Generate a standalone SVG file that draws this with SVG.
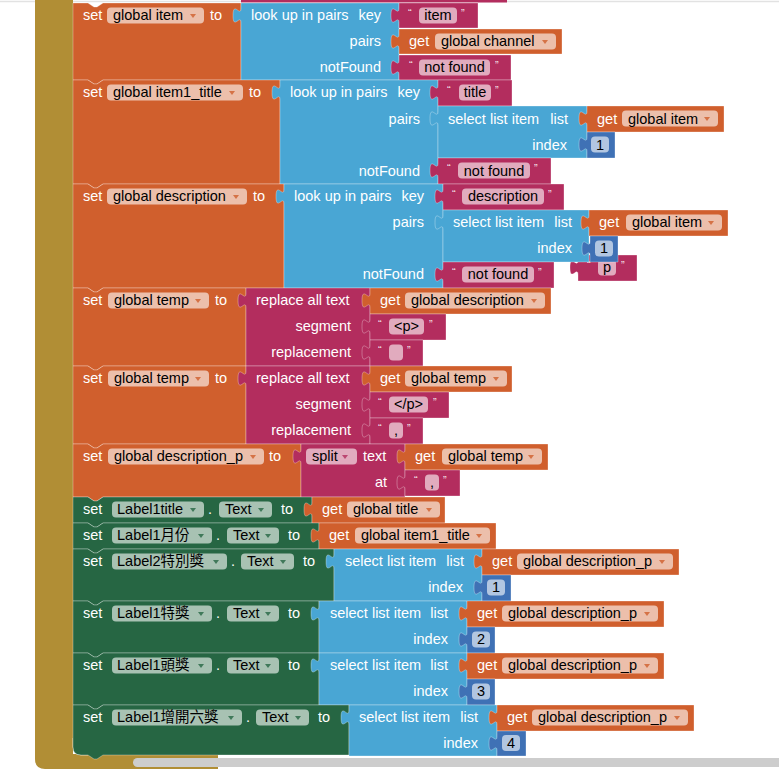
<svg xmlns="http://www.w3.org/2000/svg" width="779" height="769" viewBox="0 0 779 769">
<style>
text{font-family:"Liberation Sans","Noto Sans CJK TC",Arial,sans-serif;font-size:14.5px}
.w{fill:#fff}
.k{fill:#000}
.e{text-anchor:end}
.m{text-anchor:middle}
.q{fill:#fff;fill-opacity:.9;font-size:11px}
.blk{stroke:#fff;stroke-opacity:.3;stroke-width:1}
.or{fill:#D05F2D}.bl{fill:#49A6D4}.mg{fill:#B32D5E}.gr{fill:#266643}.nb{fill:#3F71B5}
.pl{fill:#fff;fill-opacity:.6}
.ao{fill:#D05F2D;fill-opacity:.8}.ag{fill:#266643;fill-opacity:.8}.am{fill:#B32D5E;fill-opacity:.8}
</style>
<rect x="0" y="0" width="779" height="769" fill="#fff"/>
<line x1="0" y1="1.5" x2="779" y2="1.5" stroke="#e2e2e2" stroke-width="1.5"/>
<g id="event-frame">
<path d="M35,0 H73 V754 H218 V769 H45 Q35,769 35,759 Z" fill="#B18E35"/>
<path d="M73.5,738 V747 Q73.5,754.5 81,754.5 H88" fill="none" stroke="#fff" stroke-width="1.5"/>
</g>
<rect x="241" y="0" width="266" height="2.5" fill="#B32D5E"/>
<g id="connectors"/>

<!-- Block 1 -->
<g id="set-global-item">
<path class="blk or" d="M73,3 H88 l6,4 h3 l6,-4 H241 V80 H103 l-6,4 h-3 l-6,-4 H73 Z"/>
<text class="w" x="83" y="20">set</text>
<rect class="pl" x="107" y="7.5" width="97" height="16" rx="4"/>
<text class="k" x="113" y="20">global item</text>
<path class="ao" d="M190,14 h6 l-3,4 z"/>
<text class="w" x="210" y="20">to</text>
</g>
<g id="lookup-1">
<path class="blk bl" d="M241,3 H399 V80 H241 V23 c0,-10 -8,8 -8,-7.5 s8,2.5 8,-7.5 Z"/>
<text class="w" x="251" y="20">look up in pairs</text>
<text class="w e" x="381" y="20">key</text>
<text class="w e" x="381" y="46">pairs</text>
<text class="w e" x="381" y="72">notFound</text>
</g>
<g id="text-item">
<path class="blk mg" d="M399,3 H478 V28 H399 V23 c0,-10 -8,8 -8,-7.5 s8,2.5 8,-7.5 Z"/>
<text class="q" x="408" y="17">“</text>
<rect class="pl" x="419" y="7.5" width="38" height="16" rx="4"/>
<text class="k m" x="438" y="20">item</text>
<text class="q" x="461" y="17">”</text>
</g>
<g id="get-global-channel">
<path class="blk or" d="M399,29 H562 V54 H399 V49 c0,-10 -8,8 -8,-7.5 s8,2.5 8,-7.5 Z"/>
<text class="w" x="409" y="46">get</text>
<rect class="pl" x="435" y="33.5" width="121" height="16" rx="4"/>
<text class="k" x="441" y="46">global channel</text>
<path class="ao" d="M542,40 h6 l-3,4 z"/>
</g>
<g id="text-notfound-1">
<path class="blk mg" d="M399,55 H511 V80 H399 V75 c0,-10 -8,8 -8,-7.5 s8,2.5 8,-7.5 Z"/>
<text class="q" x="409" y="69">“</text>
<rect class="pl" x="419" y="59.5" width="71" height="16" rx="4"/>
<text class="k m" x="454.5" y="72">not found</text>
<text class="q" x="495" y="69">”</text>
</g>

<!-- Block 2 -->
<g id="set-global-item1_title">
<path class="blk or" d="M73,80 H88 l6,4 h3 l6,-4 H280 V184 H103 l-6,4 h-3 l-6,-4 H73 Z"/>
<text class="w" x="83" y="97">set</text>
<rect class="pl" x="107" y="84.5" width="136" height="16" rx="4"/>
<text class="k" x="113" y="97">global item1_title</text>
<path class="ao" d="M229,91 h6 l-3,4 z"/>
<text class="w" x="249" y="97">to</text>
</g>
<g id="lookup-2">
<path class="blk bl" d="M280,80 H438 V184 H280 V100 c0,-10 -8,8 -8,-7.5 s8,2.5 8,-7.5 Z"/>
<text class="w" x="290" y="97">look up in pairs</text>
<text class="w e" x="420" y="97">key</text>
<text class="w e" x="420" y="124">pairs</text>
<text class="w e" x="420" y="176">notFound</text>
</g>
<g id="text-title">
<path class="blk mg" d="M438,80 H512 V106 H438 V100 c0,-10 -8,8 -8,-7.5 s8,2.5 8,-7.5 Z"/>
<text class="q" x="447" y="94">“</text>
<rect class="pl" x="459" y="84.5" width="32" height="16" rx="4"/>
<text class="k m" x="475" y="97">title</text>
<text class="q" x="495" y="94">”</text>
</g>
<g id="select-1">
<path class="blk bl" d="M438,106 H587 V158 H438 V126 c0,-10 -8,8 -8,-7.5 s8,2.5 8,-7.5 Z"/>
<text class="w" x="448" y="124">select list item</text>
<text class="w e" x="568" y="124">list</text>
<text class="w e" x="567" y="150">index</text>
</g>
<g id="get-global-item-1">
<path class="blk or" d="M587,106 H724 V132 H587 V126 c0,-10 -8,8 -8,-7.5 s8,2.5 8,-7.5 Z"/>
<text class="w" x="597" y="124">get</text>
<rect class="pl" x="622" y="110.5" width="96" height="16" rx="4"/>
<text class="k" x="628" y="124">global item</text>
<path class="ao" d="M704,117 h6 l-3,4 z"/>
</g>
<g id="num-1a">
<path class="blk nb" d="M587,132 H615 V158 H587 V152 c0,-10 -8,8 -8,-7.5 s8,2.5 8,-7.5 Z"/>
<rect class="pl" x="591" y="136.5" width="18" height="16" rx="4"/>
<text class="k m" x="600" y="150">1</text>
</g>
<g id="text-notfound-2">
<path class="blk mg" d="M438,158 H551 V184 H438 V178 c0,-10 -8,8 -8,-7.5 s8,2.5 8,-7.5 Z"/>
<text class="q" x="447" y="172">“</text>
<rect class="pl" x="458" y="162.5" width="72" height="16" rx="4"/>
<text class="k m" x="494" y="176">not found</text>
<text class="q" x="534" y="172">”</text>
</g>

<!-- Block 3 -->
<g id="set-global-description">
<path class="blk or" d="M73,184 H88 l6,4 h3 l6,-4 H284 V288 H103 l-6,4 h-3 l-6,-4 H73 Z"/>
<text class="w" x="83" y="201">set</text>
<rect class="pl" x="107" y="188.5" width="140" height="16" rx="4"/>
<text class="k" x="113" y="201">global description</text>
<path class="ao" d="M233,195 h6 l-3,4 z"/>
<text class="w" x="253" y="201">to</text>
</g>
<g id="lookup-3">
<path class="blk bl" d="M284,184 H443 V288 H284 V204 c0,-10 -8,8 -8,-7.5 s8,2.5 8,-7.5 Z"/>
<text class="w" x="294" y="201">look up in pairs</text>
<text class="w e" x="424" y="201">key</text>
<text class="w e" x="424" y="227">pairs</text>
<text class="w e" x="424" y="279">notFound</text>
</g>
<g id="text-description">
<path class="blk mg" d="M443,184 H564 V210 H443 V204 c0,-10 -8,8 -8,-7.5 s8,2.5 8,-7.5 Z"/>
<text class="q" x="452" y="198">“</text>
<rect class="pl" x="462" y="188.5" width="82" height="16" rx="4"/>
<text class="k m" x="503" y="201">description</text>
<text class="q" x="548" y="198">”</text>
</g>
<g id="text-p-stray">
<path class="blk mg" d="M578,255 H637 V281 H578 V275 c0,-10 -8,8 -8,-7.5 s8,2.5 8,-7.5 Z"/>
<text class="q" x="587" y="269">“</text>
<rect class="pl" x="598" y="259.5" width="18" height="16" rx="4"/>
<text class="k m" x="607" y="272">p</text>
<text class="q" x="621" y="269">”</text>
</g>
<g id="select-2">
<path class="blk bl" d="M443,210 H589 V262 H443 V230 c0,-10 -8,8 -8,-7.5 s8,2.5 8,-7.5 Z"/>
<text class="w" x="453" y="227">select list item</text>
<text class="w e" x="572" y="227">list</text>
<text class="w e" x="572" y="253">index</text>
</g>
<g id="get-global-item-2">
<path class="blk or" d="M589,210 H728 V236 H589 V230 c0,-10 -8,8 -8,-7.5 s8,2.5 8,-7.5 Z"/>
<text class="w" x="599" y="227">get</text>
<rect class="pl" x="626" y="214.5" width="96" height="16" rx="4"/>
<text class="k" x="632" y="227">global item</text>
<path class="ao" d="M708,221 h6 l-3,4 z"/>
</g>
<g id="num-1b">
<path class="blk nb" d="M590,236 H618 V262 H590 V256 c0,-10 -8,8 -8,-7.5 s8,2.5 8,-7.5 Z"/>
<rect class="pl" x="595" y="240.5" width="18" height="16" rx="4"/>
<text class="k m" x="604" y="253">1</text>
</g>
<g id="text-notfound-3">
<path class="blk mg" d="M443,262 H554 V288 H443 V282 c0,-10 -8,8 -8,-7.5 s8,2.5 8,-7.5 Z"/>
<text class="q" x="452" y="276">“</text>
<rect class="pl" x="462" y="266.5" width="72" height="16" rx="4"/>
<text class="k m" x="498" y="279">not found</text>
<text class="q" x="538" y="276">”</text>
</g>

<!-- Block 4 -->
<g id="set-global-temp-1">
<path class="blk or" d="M73,288 H88 l6,4 h3 l6,-4 H246 V366 H103 l-6,4 h-3 l-6,-4 H73 Z"/>
<text class="w" x="83" y="305">set</text>
<rect class="pl" x="108" y="292.5" width="101" height="16" rx="4"/>
<text class="k" x="114" y="305">global temp</text>
<path class="ao" d="M195,299 h6 l-3,4 z"/>
<text class="w" x="215" y="305">to</text>
</g>
<g id="replace-1">
<path class="blk mg" d="M246,288 H370 V366 H246 V308 c0,-10 -8,8 -8,-7.5 s8,2.5 8,-7.5 Z"/>
<text class="w" x="256" y="305">replace all text</text>
<text class="w e" x="351" y="331">segment</text>
<text class="w e" x="351" y="357">replacement</text>
</g>
<g id="get-global-description">
<path class="blk or" d="M370,288 H551 V314 H370 V308 c0,-10 -8,8 -8,-7.5 s8,2.5 8,-7.5 Z"/>
<text class="w" x="380" y="305">get</text>
<rect class="pl" x="405" y="292.5" width="140" height="16" rx="4"/>
<text class="k" x="411" y="305">global description</text>
<path class="ao" d="M531,299 h6 l-3,4 z"/>
</g>
<g id="text-p-open">
<path class="blk mg" d="M370,314 H446 V340 H370 V334 c0,-10 -8,8 -8,-7.5 s8,2.5 8,-7.5 Z"/>
<text class="q" x="378" y="328">“</text>
<rect class="pl" x="389" y="318.5" width="35" height="16" rx="4"/>
<text class="k m" x="406.5" y="331">&lt;p&gt;</text>
<text class="q" x="429" y="328">”</text>
</g>
<g id="text-empty">
<path class="blk mg" d="M370,340 H423 V366 H370 V360 c0,-10 -8,8 -8,-7.5 s8,2.5 8,-7.5 Z"/>
<text class="q" x="378" y="354">“</text>
<rect class="pl" x="389" y="344.5" width="14" height="16" rx="4"/>
<text class="q" x="407" y="354">”</text>
</g>

<!-- Block 5 -->
<g id="set-global-temp-2">
<path class="blk or" d="M73,366 H88 l6,4 h3 l6,-4 H246 V444 H103 l-6,4 h-3 l-6,-4 H73 Z"/>
<text class="w" x="83" y="383">set</text>
<rect class="pl" x="108" y="370.5" width="101" height="16" rx="4"/>
<text class="k" x="114" y="383">global temp</text>
<path class="ao" d="M195,377 h6 l-3,4 z"/>
<text class="w" x="215" y="383">to</text>
</g>
<g id="replace-2">
<path class="blk mg" d="M246,366 H370 V444 H246 V386 c0,-10 -8,8 -8,-7.5 s8,2.5 8,-7.5 Z"/>
<text class="w" x="256" y="383">replace all text</text>
<text class="w e" x="351" y="409">segment</text>
<text class="w e" x="351" y="435">replacement</text>
</g>
<g id="get-global-temp-1">
<path class="blk or" d="M370,366 H512 V392 H370 V386 c0,-10 -8,8 -8,-7.5 s8,2.5 8,-7.5 Z"/>
<text class="w" x="380" y="383">get</text>
<rect class="pl" x="405" y="370.5" width="102" height="16" rx="4"/>
<text class="k" x="411" y="383">global temp</text>
<path class="ao" d="M493,377 h6 l-3,4 z"/>
</g>
<g id="text-p-close">
<path class="blk mg" d="M370,392 H449 V418 H370 V412 c0,-10 -8,8 -8,-7.5 s8,2.5 8,-7.5 Z"/>
<text class="q" x="378" y="406">“</text>
<rect class="pl" x="389" y="396.5" width="39" height="16" rx="4"/>
<text class="k m" x="408.5" y="409">&lt;/p&gt;</text>
<text class="q" x="433" y="406">”</text>
</g>
<g id="text-comma-1">
<path class="blk mg" d="M370,418 H423 V444 H370 V438 c0,-10 -8,8 -8,-7.5 s8,2.5 8,-7.5 Z"/>
<text class="q" x="378" y="432">“</text>
<rect class="pl" x="389" y="422.5" width="14" height="16" rx="4"/>
<text class="k m" x="396" y="435">,</text>
<text class="q" x="407" y="432">”</text>
</g>

<!-- Block 6 -->
<g id="set-global-description_p">
<path class="blk or" d="M73,444 H88 l6,4 h3 l6,-4 H301 V497 H103 l-6,4 h-3 l-6,-4 H73 Z"/>
<text class="w" x="83" y="461">set</text>
<rect class="pl" x="108" y="448.5" width="156" height="16" rx="4"/>
<text class="k" x="114" y="461">global description_p</text>
<path class="ao" d="M250,455 h6 l-3,4 z"/>
<text class="w" x="269" y="461">to</text>
</g>
<g id="split">
<path class="blk mg" d="M301,444 H405 V497 H301 V464 c0,-10 -8,8 -8,-7.5 s8,2.5 8,-7.5 Z"/>
<rect class="pl" x="306" y="448.5" width="51" height="16" rx="4"/>
<text class="k" x="312" y="461">split</text>
<path class="am" d="M342,455 h6 l-3,4 z"/>
<text class="w" x="363" y="461">text</text>
<text class="w e" x="387" y="487">at</text>
</g>
<g id="get-global-temp-2">
<path class="blk or" d="M405,444 H548 V470 H405 V464 c0,-10 -8,8 -8,-7.5 s8,2.5 8,-7.5 Z"/>
<text class="w" x="415" y="461">get</text>
<rect class="pl" x="442" y="448.5" width="100" height="16" rx="4"/>
<text class="k" x="448" y="461">global temp</text>
<path class="ao" d="M528,455 h6 l-3,4 z"/>
</g>
<g id="text-comma-2">
<path class="blk mg" d="M405,470 H460 V496 H405 V490 c0,-10 -8,8 -8,-7.5 s8,2.5 8,-7.5 Z"/>
<text class="q" x="414" y="484">“</text>
<rect class="pl" x="425" y="474.5" width="14" height="16" rx="4"/>
<text class="k m" x="432" y="487">,</text>
<text class="q" x="443" y="484">”</text>
</g>

<!-- Block 7 -->
<g id="set-Label1title">
<path class="blk gr" d="M73,497 H88 l6,4 h3 l6,-4 H312 V523 H103 l-6,4 h-3 l-6,-4 H73 Z"/>
<text class="w" x="83" y="514">set</text>
<rect class="pl" x="112" y="501.5" width="92" height="16" rx="4"/>
<text class="k" x="117" y="514">Label1title</text>
<path class="ag" d="M190,508 h6 l-3,4 z"/>
<text class="w" x="208" y="514">.</text>
<rect class="pl" x="219" y="501.5" width="53" height="16" rx="4"/>
<text class="k" x="225" y="514">Text</text>
<path class="ag" d="M258,508 h6 l-3,4 z"/>
<text class="w" x="281" y="514">to</text>
</g>
<g id="get-global-title">
<path class="blk or" d="M312,497 H445 V523 H312 V517 c0,-10 -8,8 -8,-7.5 s8,2.5 8,-7.5 Z"/>
<text class="w" x="322" y="514">get</text>
<rect class="pl" x="347" y="501.5" width="93" height="16" rx="4"/>
<text class="k" x="353" y="514">global title</text>
<path class="ao" d="M426,508 h6 l-3,4 z"/>
</g>

<!-- Block 8 -->
<g id="set-Label1month">
<path class="blk gr" d="M73,523 H88 l6,4 h3 l6,-4 H319 V549 H103 l-6,4 h-3 l-6,-4 H73 Z"/>
<text class="w" x="83" y="540">set</text>
<rect class="pl" x="112" y="527.5" width="100" height="16" rx="4"/>
<text class="k" x="117" y="540">Label1月份</text>
<path class="ag" d="M198,534 h6 l-3,4 z"/>
<text class="w" x="216" y="540">.</text>
<rect class="pl" x="227" y="527.5" width="52" height="16" rx="4"/>
<text class="k" x="233" y="540">Text</text>
<path class="ag" d="M265,534 h6 l-3,4 z"/>
<text class="w" x="288" y="540">to</text>
</g>
<g id="get-global-item1_title">
<path class="blk or" d="M319,523 H496 V549 H319 V543 c0,-10 -8,8 -8,-7.5 s8,2.5 8,-7.5 Z"/>
<text class="w" x="329" y="540">get</text>
<rect class="pl" x="355" y="527.5" width="135" height="16" rx="4"/>
<text class="k" x="361" y="540">global item1_title</text>
<path class="ao" d="M476,534 h6 l-3,4 z"/>
</g>

<!-- Block 9 -->
<g id="set-Label2special">
<path class="blk gr" d="M73,549 H88 l6,4 h3 l6,-4 H334 V601 H103 l-6,4 h-3 l-6,-4 H73 Z"/>
<text class="w" x="83" y="566">set</text>
<rect class="pl" x="112" y="553.5" width="115" height="16" rx="4"/>
<text class="k" x="117" y="566">Label2特別獎</text>
<path class="ag" d="M213,560 h6 l-3,4 z"/>
<text class="w" x="231" y="566">.</text>
<rect class="pl" x="241" y="553.5" width="53" height="16" rx="4"/>
<text class="k" x="247" y="566">Text</text>
<path class="ag" d="M280,560 h6 l-3,4 z"/>
<text class="w" x="303" y="566">to</text>
</g>
<g id="select-3">
<path class="blk bl" d="M334,549 H482 V601 H334 V569 c0,-10 -8,8 -8,-7.5 s8,2.5 8,-7.5 Z"/>
<text class="w" x="345" y="566">select list item</text>
<text class="w e" x="464" y="566">list</text>
<text class="w e" x="463" y="592">index</text>
</g>
<g id="get-desc-p-1">
<path class="blk or" d="M482,549 H679 V575 H482 V569 c0,-10 -8,8 -8,-7.5 s8,2.5 8,-7.5 Z"/>
<text class="w" x="492" y="566">get</text>
<rect class="pl" x="517" y="553.5" width="156" height="16" rx="4"/>
<text class="k" x="523" y="566">global description_p</text>
<path class="ao" d="M659,560 h6 l-3,4 z"/>
</g>
<g id="num-1c">
<path class="blk nb" d="M482,575 H511 V601 H482 V595 c0,-10 -8,8 -8,-7.5 s8,2.5 8,-7.5 Z"/>
<rect class="pl" x="487" y="579.5" width="18" height="16" rx="4"/>
<text class="k m" x="496" y="592">1</text>
</g>

<!-- Block 10 -->
<g id="set-Label1special">
<path class="blk gr" d="M73,601 H88 l6,4 h3 l6,-4 H319 V653 H103 l-6,4 h-3 l-6,-4 H73 Z"/>
<text class="w" x="83" y="618">set</text>
<rect class="pl" x="112" y="605.5" width="100" height="16" rx="4"/>
<text class="k" x="117" y="618">Label1特獎</text>
<path class="ag" d="M198,612 h6 l-3,4 z"/>
<text class="w" x="216" y="618">.</text>
<rect class="pl" x="227" y="605.5" width="52" height="16" rx="4"/>
<text class="k" x="233" y="618">Text</text>
<path class="ag" d="M265,612 h6 l-3,4 z"/>
<text class="w" x="288" y="618">to</text>
</g>
<g id="select-4">
<path class="blk bl" d="M319,601 H467 V653 H319 V621 c0,-10 -8,8 -8,-7.5 s8,2.5 8,-7.5 Z"/>
<text class="w" x="330" y="618">select list item</text>
<text class="w e" x="448" y="618">list</text>
<text class="w e" x="448" y="644">index</text>
</g>
<g id="get-desc-p-2">
<path class="blk or" d="M467,601 H664 V627 H467 V621 c0,-10 -8,8 -8,-7.5 s8,2.5 8,-7.5 Z"/>
<text class="w" x="477" y="618">get</text>
<rect class="pl" x="502" y="605.5" width="156" height="16" rx="4"/>
<text class="k" x="508" y="618">global description_p</text>
<path class="ao" d="M644,612 h6 l-3,4 z"/>
</g>
<g id="num-2">
<path class="blk nb" d="M467,627 H495 V653 H467 V647 c0,-10 -8,8 -8,-7.5 s8,2.5 8,-7.5 Z"/>
<rect class="pl" x="472" y="631.5" width="18" height="16" rx="4"/>
<text class="k m" x="481" y="644">2</text>
</g>

<!-- Block 11 -->
<g id="set-Label1first">
<path class="blk gr" d="M73,653 H88 l6,4 h3 l6,-4 H319 V705 H103 l-6,4 h-3 l-6,-4 H73 Z"/>
<text class="w" x="83" y="670">set</text>
<rect class="pl" x="112" y="657.5" width="100" height="16" rx="4"/>
<text class="k" x="117" y="670">Label1頭獎</text>
<path class="ag" d="M198,664 h6 l-3,4 z"/>
<text class="w" x="216" y="670">.</text>
<rect class="pl" x="227" y="657.5" width="52" height="16" rx="4"/>
<text class="k" x="233" y="670">Text</text>
<path class="ag" d="M265,664 h6 l-3,4 z"/>
<text class="w" x="288" y="670">to</text>
</g>
<g id="select-5">
<path class="blk bl" d="M319,653 H467 V705 H319 V673 c0,-10 -8,8 -8,-7.5 s8,2.5 8,-7.5 Z"/>
<text class="w" x="330" y="670">select list item</text>
<text class="w e" x="448" y="670">list</text>
<text class="w e" x="448" y="696">index</text>
</g>
<g id="get-desc-p-3">
<path class="blk or" d="M467,653 H664 V679 H467 V673 c0,-10 -8,8 -8,-7.5 s8,2.5 8,-7.5 Z"/>
<text class="w" x="477" y="670">get</text>
<rect class="pl" x="502" y="657.5" width="156" height="16" rx="4"/>
<text class="k" x="508" y="670">global description_p</text>
<path class="ao" d="M644,664 h6 l-3,4 z"/>
</g>
<g id="num-3">
<path class="blk nb" d="M467,679 H495 V705 H467 V699 c0,-10 -8,8 -8,-7.5 s8,2.5 8,-7.5 Z"/>
<rect class="pl" x="472" y="683.5" width="18" height="16" rx="4"/>
<text class="k m" x="481" y="696">3</text>
</g>

<!-- Block 12 -->
<g id="set-Label1sixth">
<path class="blk gr" d="M73,705 H88 l6,4 h3 l6,-4 H349 V755 H103 l-6,4 h-3 l-6,-4 H81 Q73,755 73,747 Z"/>
<text class="w" x="83" y="722">set</text>
<rect class="pl" x="112" y="709.5" width="130" height="16" rx="4"/>
<text class="k" x="117" y="722">Label1增開六獎</text>
<path class="ag" d="M228,716 h6 l-3,4 z"/>
<text class="w" x="246" y="722">.</text>
<rect class="pl" x="256" y="709.5" width="53" height="16" rx="4"/>
<text class="k" x="262" y="722">Text</text>
<path class="ag" d="M295,716 h6 l-3,4 z"/>
<text class="w" x="318" y="722">to</text>
</g>
<g id="select-6">
<path class="blk bl" d="M349,705 H497 V756 H349 V725 c0,-10 -8,8 -8,-7.5 s8,2.5 8,-7.5 Z"/>
<text class="w" x="359" y="722">select list item</text>
<text class="w e" x="478" y="722">list</text>
<text class="w e" x="478" y="748">index</text>
</g>
<g id="get-desc-p-4">
<path class="blk or" d="M497,705 H694 V731 H497 V725 c0,-10 -8,8 -8,-7.5 s8,2.5 8,-7.5 Z"/>
<text class="w" x="507" y="722">get</text>
<rect class="pl" x="532" y="709.5" width="156" height="16" rx="4"/>
<text class="k" x="538" y="722">global description_p</text>
<path class="ao" d="M674,716 h6 l-3,4 z"/>
</g>
<g id="num-4">
<path class="blk nb" d="M497,731 H526 V756 H497 V751 c0,-10 -8,8 -8,-7.5 s8,2.5 8,-7.5 Z"/>
<rect class="pl" x="502" y="735" width="18" height="16" rx="4"/>
<text class="k m" x="511" y="748">4</text>
</g>

<rect x="133" y="758" width="660" height="9" rx="4.5" fill="#cdcdcd"/>
</svg>
